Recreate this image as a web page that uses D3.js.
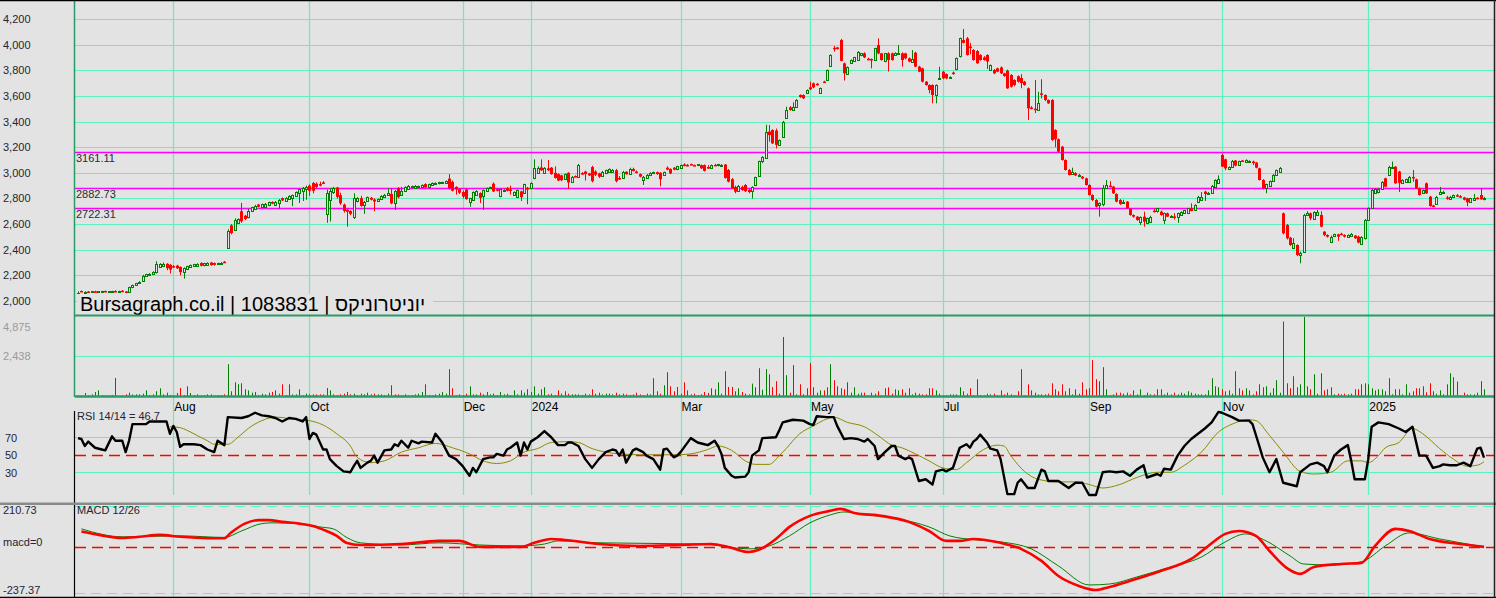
<!DOCTYPE html>
<html><head><meta charset="utf-8">
<script src="https://cdn.jsdelivr.net/npm/d3@7"></script>
<style>
html,body{margin:0;padding:0;background:#e3e3e3;overflow:hidden}
svg{display:block;font-family:"Liberation Sans",Arial,sans-serif}
</style></head><body><svg id="c" width="1496" height="598"></svg>
<script>
// ---- DATA ----
const priceTicks = [2000,2200,2400,2600,2800,3000,3200,3400,3600,3800,4000,4200];
const volTicks = [4875,2438];
const rsiTicks = [70,50,30];
const levels = [3161.11,2882.73,2722.31];
const monthLabels = ['Aug','Oct','Dec','2024','Mar','May','Jul','Sep','Nov','2025'];
const monthIdx = [28,68,113,133,177,215,254,297,336,379];
const title = 'Bursagraph.co.il | 1083831 | יוניטרוניקס';
// daily candles [open, high, low, close]
const ohlc = [
[2040,2075,2010,2065],[2078,2082,2070,2072],[2072,2076,2068,2074],[2074,2078,2070,2072],[2072,2076,2068,2075],
[2075,2080,2070,2073],[2073,2077,2068,2075],[2075,2080,2072,2078],[2078,2082,2072,2074],[2074,2078,2070,2076],
[2076,2080,2072,2078],[2078,2084,2070,2072],[2072,2080,2068,2078],[2080,2085,2070,2072],[2074,2078,2062,2066],
[2068,2112,2065,2108],[2106,2128,2100,2125],[2125,2142,2120,2140],[2140,2155,2135,2150],[2155,2205,2150,2195],
[2195,2212,2190,2208],[2208,2218,2200,2214],[2214,2232,2210,2226],[2226,2310,2215,2286],[2268,2295,2260,2290],
[2278,2300,2270,2292],[2290,2295,2240,2256],[2282,2288,2215,2245],[2272,2280,2260,2264],[2276,2282,2250,2255],
[2265,2270,2200,2225],[2225,2262,2175,2255],[2250,2275,2245,2270],[2265,2285,2260,2280],[2270,2290,2265,2285],
[2278,2295,2275,2290],[2296,2302,2270,2275],[2275,2298,2270,2294],[2282,2302,2278,2298],[2300,2305,2275,2280],
[2296,2300,2276,2282],[2284,2298,2280,2294],[2290,2304,2286,2300],[2306,2312,2296,2300],[2415,2560,2410,2550],
[2590,2600,2520,2530],[2555,2645,2550,2635],[2612,2645,2605,2640],[2700,2765,2610,2622],[2665,2672,2630,2640],
[2650,2720,2645,2700],[2700,2735,2695,2730],[2720,2750,2715,2745],[2752,2758,2730,2735],[2735,2760,2730,2755],
[2740,2765,2735,2760],[2745,2775,2740,2770],[2772,2778,2755,2760],[2755,2780,2750,2775],[2765,2795,2720,2790],
[2802,2808,2780,2785],[2780,2810,2775,2805],[2795,2825,2790,2820],[2805,2830,2740,2825],[2820,2855,2815,2850],
[2840,2875,2765,2870],[2855,2890,2780,2880],[2878,2900,2790,2890],[2900,2910,2820,2860],[2920,2930,2840,2860],
[2915,2925,2880,2890],[2912,2930,2895,2905],[2925,2935,2915,2918],[2680,2870,2610,2840],[2790,2880,2620,2860],
[2845,2890,2835,2880],[2885,2890,2800,2812],[2825,2845,2750,2762],[2752,2760,2690,2702],[2712,2720,2580,2696],
[2702,2708,2670,2680],[2650,2840,2640,2800],[2780,2810,2770,2800],[2802,2820,2735,2742],[2750,2780,2680,2770],
[2780,2815,2775,2810],[2805,2812,2785,2790],[2792,2800,2700,2776],[2780,2800,2775,2795],[2800,2825,2795,2820],
[2815,2835,2810,2830],[2825,2880,2820,2840],[2835,2880,2755,2762],[2762,2865,2710,2858],[2882,2888,2800,2810],
[2830,2890,2825,2860],[2855,2895,2850,2890],[2880,2905,2875,2900],[2885,2900,2880,2895],[2886,2905,2880,2900],
[2895,2900,2885,2896],[2890,2910,2885,2905],[2912,2918,2880,2886],[2888,2915,2884,2910],[2905,2925,2900,2920],
[2916,2926,2912,2922],[2915,2930,2910,2925],[2924,2930,2918,2926],[2920,2940,2915,2935],[2955,2990,2870,2880],
[2930,2940,2855,2860],[2890,2895,2830,2870],[2875,2880,2835,2845],[2850,2862,2800,2815],[2870,2876,2790,2795],
[2770,2805,2735,2800],[2790,2855,2785,2850],[2830,2865,2825,2860],[2842,2848,2765,2805],[2820,2870,2710,2865],
[2860,2885,2855,2880],[2886,2892,2882,2888],[2915,2925,2850,2855],[2872,2878,2855,2860],[2815,2875,2810,2870],
[2864,2872,2860,2868],[2882,2888,2855,2860],[2870,2900,2830,2860],[2830,2855,2825,2850],[2810,2870,2805,2865],
[2855,2860,2780,2810],[2840,2915,2835,2910],[2882,2890,2755,2870],[2880,2925,2875,2920],[2960,3105,2950,3040],
[3000,3050,2995,3040],[3042,3105,3015,3020],[3000,3045,2995,3040],[3035,3100,3015,3020],[3040,3045,2985,2990],
[3000,3050,2955,2960],[2990,2995,2935,2940],[2980,2985,2935,2942],[2950,2995,2945,2990],[3000,3005,2875,2925],
[2930,2975,2925,2970],[2975,2980,2965,2968],[2965,3070,2960,3060],[2998,3005,2985,2990],[3010,3015,2940,2990],
[2995,3000,2975,2980],[3045,3055,2925,2935],[3010,3020,2975,2985],[2995,3000,2960,2970],[2980,3015,2975,3010],
[2995,3025,2990,3020],[3005,3035,3000,3030],[3010,3030,3005,3025],[3020,3030,2925,2935],[2960,2975,2945,2955],
[2960,3015,2955,3010],[3008,3012,2985,2990],[2990,3040,2985,3030],[3030,3040,3010,3015],[3010,3018,2995,3000],
[2990,2995,2965,2970],[2945,2975,2905,2970],[2965,2990,2960,2985],[2985,3005,2980,3000],[2995,3010,2990,3005],
[3005,3010,2985,2990],[3000,3005,2895,2950],[2980,3010,2975,3005],[3040,3050,3020,3025],[3030,3035,2990,2995],
[3040,3045,3020,3025],[3025,3055,3020,3050],[3040,3065,3035,3060],[3065,3075,3050,3055],[3062,3068,3050,3055],
[3068,3072,3060,3062],[3060,3065,3055,3058],[3055,3068,3052,3065],[3060,3065,3030,3035],[3060,3065,3010,3015],
[3045,3060,3030,3040],[3035,3065,3030,3060],[3062,3070,3052,3058],[3055,3070,3050,3065],[3060,3068,3055,3064],
[3065,3068,2955,2960],[3022,3030,2925,2931],[2950,2960,2875,2880],[2890,2900,2840,2853],[2860,2905,2855,2900],
[2890,2900,2860,2865],[2905,2912,2850,2857],[2867,2875,2840,2850],[2857,2895,2800,2890],[2900,2970,2895,2965],
[2975,3095,2970,3090],[3090,3130,3075,3120],[3120,3375,3110,3320],[3322,3373,3243,3295],[3334,3340,3225,3230],
[3330,3345,3190,3218],[3217,3260,3210,3256],[3282,3405,3275,3399],[3425,3516,3420,3490],[3511,3520,3485,3490],
[3490,3550,3485,3515],[3516,3575,3510,3568],[3607,3612,3585,3591],[3607,3612,3575,3581],[3620,3650,3615,3646],
[3667,3712,3645,3651],[3698,3705,3660,3667],[3695,3700,3680,3688],[3620,3665,3615,3660],[3712,3718,3700,3705],
[3724,3806,3720,3802],[3833,3925,3830,3919],[3975,3990,3945,3968],[3978,3982,3962,3966],[4036,4045,3870,3873],
[3854,3860,3720,3776],[3776,3830,3770,3828],[3854,3885,3850,3880],[3868,3905,3865,3900],[3880,3950,3875,3945],
[3915,3935,3910,3932],[3932,3940,3895,3900],[3890,3898,3878,3882],[3888,3892,3815,3880],[3880,3975,3875,3971],
[3997,4049,3925,3932],[3932,3935,3875,3880],[3868,3935,3862,3932],[3932,3940,3790,3880],[3932,3938,3875,3880],
[3920,3940,3915,3932],[3928,3997,3925,3932],[3932,3940,3828,3880],[3932,3936,3885,3893],[3893,3900,3862,3868],
[3868,3958,3865,3888],[3937,3945,3825,3828],[3828,3835,3785,3789],[3815,3820,3705,3711],[3711,3715,3680,3685],
[3685,3690,3620,3646],[3685,3690,3542,3607],[3607,3690,3542,3685],[3735,3828,3725,3740],[3789,3795,3730,3737],
[3770,3775,3730,3737],[3740,3752,3735,3745],[3782,3790,3765,3772],[3807,3900,3800,3893],[3906,4055,3900,4049],
[4036,4122,4010,4014],[4049,4060,3915,3919],[3985,4014,3925,3975],[3958,3965,3875,3880],[3950,3958,3850,3855],
[3919,3925,3875,3880],[3900,3910,3875,3880],[3919,3925,3810,3868],[3802,3845,3795,3841],[3802,3810,3770,3776],
[3815,3820,3785,3789],[3822,3830,3770,3776],[3776,3780,3750,3755],[3797,3805,3655,3659],[3763,3770,3665,3672],
[3724,3730,3675,3685],[3754,3760,3705,3711],[3740,3770,3660,3700],[3711,3718,3680,3685],[3659,3665,3412,3503],
[3510,3520,3495,3503],[3500,3724,3466,3490],[3490,3633,3485,3544],[3620,3730,3580,3610],[3607,3612,3560,3568],
[3568,3572,3538,3542],[3568,3575,3250,3256],[3334,3340,3200,3262],[3262,3268,3160,3165],[3204,3210,3095,3100],
[3100,3105,3018,3022],[3022,3030,2980,2983],[2995,3040,2990,3008],[2998,3005,2975,2980],[2975,2992,2970,2985],
[2970,2975,2950,2956],[2957,2962,2900,2905],[2905,2910,2822,2827],[2827,2832,2780,2788],[2788,2795,2730,2736],
[2750,2770,2658,2762],[2757,2905,2740,2879],[2879,2944,2875,2905],[2900,2935,2888,2892],[2892,2898,2835,2840],
[2835,2840,2770,2775],[2788,2795,2750,2757],[2765,2790,2760,2770],[2775,2780,2718,2723],[2718,2722,2665,2671],
[2671,2675,2650,2658],[2658,2662,2625,2632],[2619,2660,2593,2658],[2658,2697,2580,2619],[2606,2650,2600,2645],
[2619,2665,2610,2658],[2705,2720,2690,2695],[2697,2725,2690,2723],[2697,2705,2665,2671],[2632,2690,2600,2684],
[2684,2690,2655,2658],[2662,2670,2655,2665],[2660,2684,2635,2655],[2650,2690,2610,2684],[2671,2700,2668,2697],
[2684,2712,2680,2710],[2684,2725,2680,2723],[2723,2762,2700,2702],[2710,2755,2705,2749],[2775,2820,2770,2814],
[2790,2850,2785,2814],[2853,2860,2780,2835],[2836,2850,2830,2842],[2842,2905,2835,2900],[2892,2950,2885,2945],
[2920,2980,2915,2950],[3139,3150,3045,3048],[3105,3110,3020,3035],[3035,3050,3030,3048],[3050,3100,3045,3096],
[3096,3100,3050,3057],[3061,3095,3055,3092],[3096,3100,3085,3090],[3082,3105,3078,3100],[3090,3098,3085,3092],
[3088,3095,3060,3082],[3080,3085,3035,3040],[3035,3040,2940,2944],[2944,2950,2870,2879],[2879,2915,2840,2910],
[2895,2940,2890,2935],[2935,2990,2930,2985],[2985,3025,2980,3022],[3008,3045,3005,3040],[2684,2690,2520,2528],
[2593,2600,2480,2489],[2494,2500,2430,2437],[2411,2490,2405,2450],[2437,2442,2350,2359],[2365,2385,2294,2378],
[2385,2680,2380,2671],[2671,2700,2665,2690],[2684,2690,2630,2645],[2645,2700,2640,2697],[2671,2710,2665,2697],
[2671,2700,2575,2580],[2541,2545,2505,2515],[2515,2520,2495,2502],[2463,2510,2458,2502],[2502,2525,2498,2520],
[2520,2525,2470,2502],[2525,2532,2515,2520],[2515,2520,2495,2502],[2502,2520,2498,2515],[2507,2530,2502,2525],
[2510,2515,2485,2489],[2502,2510,2450,2456],[2450,2505,2445,2502],[2489,2640,2480,2632],[2632,2730,2625,2723],
[2723,2875,2718,2866],[2840,2880,2835,2870],[2845,2880,2840,2870],[2879,2935,2875,2930],[2957,2962,2888,2892],
[2983,3055,2978,3048],[3040,3088,3035,3048],[3048,3052,2915,2918],[3010,3015,2850,2922],[2918,2950,2912,2944],
[2930,2955,2925,2950],[2930,2975,2925,2970],[2968,3022,2930,2960],[2949,2955,2875,2879],[2879,2885,2822,2827],
[2840,2870,2835,2866],[2918,2925,2835,2840],[2814,2820,2735,2741],[2745,2750,2732,2741],[2762,2820,2758,2814],
[2840,2890,2835,2853],[2845,2860,2840,2850],[2808,2820,2790,2800],[2795,2820,2790,2814],[2814,2830,2810,2827],
[2825,2835,2815,2820],[2818,2825,2805,2810],[2808,2812,2785,2790],[2801,2805,2740,2770],[2770,2805,2765,2801],
[2788,2835,2785,2801],[2805,2810,2795,2800],[2827,2880,2790,2793],[2798,2812,2785,2806]
];
const volume = [
100,80,240,100,160,300,400,120,100,80,120,1150,60,80,160,260,160,160,160,200,
400,120,160,345,525,160,260,120,100,240,545,120,645,240,100,160,100,100,160,160,
80,120,120,160,1975,345,885,765,825,465,400,260,300,100,200,160,260,300,400,200,
765,120,765,160,160,465,100,200,160,160,160,160,160,545,400,160,100,160,200,300,
160,200,100,200,160,260,160,200,160,160,120,200,705,160,160,100,160,100,120,160,
200,300,765,120,100,160,200,300,200,1675,525,100,160,120,200,645,160,160,260,160,
300,160,200,120,300,160,200,120,400,160,400,260,465,300,645,200,465,585,160,200,
120,400,200,345,200,160,160,160,120,200,160,465,200,260,160,200,200,160,260,160,
200,160,120,160,260,160,120,200,160,1130,345,200,705,1490,645,345,605,200,885,400,
160,200,120,160,300,240,525,465,885,200,1555,605,605,345,525,300,200,160,805,585,
1735,440,1675,1370,600,950,200,3610,1310,260,1915,160,765,160,525,2040,585,260,400,400,
585,1975,1010,645,525,465,885,260,585,200,260,260,100,260,200,345,100,525,585,200,
465,400,465,260,525,160,260,200,160,160,525,525,400,200,100,100,160,160,160,585,
345,200,525,100,1070,120,100,200,160,200,100,400,160,260,160,100,345,1675,100,765,
400,260,160,160,160,200,825,465,345,765,345,525,160,465,200,885,465,525,2220,1070,
950,1795,465,100,160,260,260,200,260,160,400,160,465,100,260,160,160,465,465,160,
260,160,260,160,260,200,345,260,200,160,160,160,400,1130,645,585,465,345,400,200,
1555,525,400,525,400,160,345,765,585,645,260,525,1010,260,4540,825,525,1250,585,765,
4820,645,465,1370,200,1430,400,465,585,160,200,160,200,160,200,465,465,765,825,765,
525,400,465,465,345,1130,160,465,465,160,765,260,345,525,525,645,280,825,345,200,
400,160,765,1430,1190,930,100,260,160,160,160,260,950,465
];
// RSI 14 [day index, value]
const rsiLine = [[0,69],[1,68],[2,60],[3,65],[5,58],[7,56],[8,55],[10,71],[11,66],[13,66],[14,53],[15,66],[16,85],[20,85],[21,88],[26,88],[27,74],[28,83],[29,76],[30,59],[31,62],[34,62],[36,61],[38,56],[40,53],[41,66],[43,61],[44,93],[48,92],[50,94],[52,98],[54,95],[56,94],[58,92],[60,88],[62,92],[64,91],[66,88],[67,93],[68,68],[69,75],[70,73],[72,56],[73,56],[74,45],[76,37],[78,31],[80,30],[81,37],[82,43],[83,35],[85,41],[86,43],[87,49],[88,41],[90,55],[92,56],[93,62],[94,60],[95,66],[97,58],[98,66],[100,63],[101,65],[104,64],[105,74],[107,64],[109,49],[111,45],[112,41],[113,37],[115,26],[116,35],[117,30],[119,45],[121,47],[122,47],[123,51],[125,49],[126,56],[127,58],[129,64],[130,49],[131,64],[132,56],[133,65],[135,70],[137,77],[139,70],[141,61],[143,61],[144,64],[145,64],[147,60],[149,45],[151,35],[153,45],[155,53],[157,56],[158,55],[159,49],[160,56],[161,41],[163,55],[164,57],[166,53],[167,49],[169,45],[171,33],[172,56],[173,57],[175,47],[176,49],[177,53],[180,69],[182,64],[184,62],[185,61],[187,66],[188,60],[189,51],[190,35],[192,26],[193,24],[196,25],[197,30],[198,49],[200,55],[201,69],[205,70],[206,78],[207,87],[208,88],[210,90],[213,89],[215,85],[216,84],[217,94],[220,93],[222,93],[223,83],[225,68],[227,69],[229,68],[231,65],[232,68],[234,60],[235,45],[237,53],[239,60],[240,60],[241,49],[243,45],[244,47],[245,45],[247,20],[249,22],[251,16],[252,31],[254,33],[255,31],[257,35],[259,58],[261,62],[262,58],[263,65],[264,68],[265,73],[267,64],[268,57],[270,55],[271,45],[273,5],[275,5],[276,18],[277,22],[279,12],[281,12],[283,33],[284,31],[285,20],[288,20],[291,12],[293,18],[295,18],[297,4],[299,4],[301,30],[303,31],[305,30],[307,31],[309,26],[311,33],[313,38],[314,24],[317,28],[318,26],[319,34],[321,33],[323,49],[325,60],[327,68],[329,74],[331,80],[333,87],[335,99],[336,98],[339,93],[341,89],[344,89],[345,85],[347,60],[348,47],[350,30],[352,45],[354,18],[356,16],[358,14],[359,30],[362,39],[364,41],[366,37],[367,30],[369,49],[371,56],[373,61],[374,43],[375,22],[378,22],[379,45],[380,82],[382,87],[385,85],[388,80],[390,76],[392,82],[394,49],[396,49],[398,35],[400,37],[401,39],[403,38],[405,38],[407,41],[409,37],[411,57],[412,58],[413,46.7]];
const rsiSignal = [[27,82],[30,81],[32,78],[35,72],[38,66],[40,62],[44,62],[47,70],[50,80],[54,89],[58,93],[63,91],[68,89],[72,84],[76,74],[80,60],[82,47],[86,41],[90,43],[95,53],[100,58],[105,63],[110,58],[115,51],[119,43],[123,40],[127,43],[131,53],[135,57],[139,64],[144,65],[147,64],[151,57],[155,53],[159,51],[165,50],[171,50],[176,50],[180,51],[185,56],[188,60],[192,55],[196,43],[199,39],[203,39],[206,49],[208,57],[212,74],[216,83],[220,91],[222,93],[226,87],[231,82],[235,72],[239,61],[242,58],[246,51],[250,43],[254,35],[258,33],[261,41],[266,56],[270,61],[272,60],[274,49],[278,31],[282,22],[288,19],[293,19],[297,16],[301,12],[306,16],[311,24],[317,30],[321,30],[325,38],[330,53],[335,76],[339,85],[344,90],[346,89],[350,72],[354,53],[359,31],[363,28],[368,30],[373,43],[377,43],[379,41],[382,49],[384,58],[388,64],[392,80],[395,74],[400,57],[404,45],[408,37],[411,38],[413,42]];
// MACD 12/26 [day index, value]
const macdLine = [[1,79],[6,62],[13,46],[18,52],[24,62],[30,52],[38,45],[43,45],[45,74],[49,120],[53,138],[56,138],[60,129],[65,120],[69,108],[73,82],[76,57],[79,20],[83,10],[95,15],[106,31],[112,31],[118,0],[124,0],[130,0],[134,21],[139,41],[143,36],[153,15],[165,5],[177,10],[186,15],[191,0],[197,-26],[200,-15],[205,41],[209,103],[215,160],[221,186],[224,196],[228,175],[236,160],[244,129],[250,82],[255,31],[259,31],[263,41],[271,21],[277,-10],[283,-72],[288,-150],[294,-201],[299,-222],[303,-206],[309,-175],[318,-124],[327,-62],[332,5],[337,67],[341,82],[346,57],[350,-21],[355,-108],[359,-139],[363,-103],[371,-88],[377,-82],[381,5],[387,93],[391,82],[397,41],[406,15],[413,0]];
const macdSignal = [[1,93],[13,52],[30,57],[43,49],[48,82],[54,120],[57,124],[65,120],[71,103],[75,93],[79,48],[83,21],[95,10],[106,21],[118,10],[130,5],[137,15],[141,31],[153,21],[183,15],[197,-10],[203,5],[209,57],[215,124],[221,165],[225,180],[232,165],[241,144],[250,103],[256,57],[264,36],[271,26],[280,-10],[288,-98],[297,-196],[303,-191],[311,-155],[320,-108],[330,-52],[337,26],[343,67],[349,31],[356,-46],[360,-88],[368,-93],[377,-77],[384,5],[391,72],[400,41],[413,0]];

// ---- DRAW ----
const W=1496,H=598,L=75,R=1494;
const BG='#e3e3e3',GRID='#5ff2c0',AXG='#2a9a6a',UP='#008000',DN='#ff0000';
const svg=d3.select('#c');
svg.append('rect').attr('width',W).attr('height',H).attr('fill',BG);
const x=d3.scaleLinear().domain([0,ohlc.length-1]).range([78,1484]);
const yP=d3.scaleLinear().domain([2000,4200]).range([301,19]);
const yV=d3.scaleLinear().domain([0,4875]).range([397,316]);
const yR=d3.scaleLinear().domain([0,100]).range([498.5,411]);
const yM=d3.scaleLinear().domain([-237.37,210.73]).range([593,506]);
const pxl=v=>Math.round(v)+0.5;
const hline=(y,x1,x2,col,w,dash)=>svg.append('line').attr('x1',x1).attr('x2',x2).attr('y1',y).attr('y2',y).attr('stroke',col).attr('stroke-width',w||1).attr('stroke-dasharray',dash||null);
const vline=(xx,y1,y2,col,w)=>svg.append('line').attr('x1',xx).attr('x2',xx).attr('y1',y1).attr('y2',y2).attr('stroke',col).attr('stroke-width',w||1);

// grids
priceTicks.forEach(t=>hline(pxl(yP(t)),L,R,GRID,1.2));
volTicks.slice(1).forEach(t=>hline(pxl(yV(t)),L,R,GRID,1.2));
hline(pxl(yR(70)),L,R,GRID,1.2); hline(pxl(yR(30)),L,R,GRID,1.2);
hline(pxl(yM(210.73)),L,R,GRID,1,'10,6'); hline(pxl(yM(-237.37)),L,R,GRID,1,'10,6');
monthIdx.forEach(i=>{const xx=pxl(x(i)); vline(xx,1,495,GRID,1.2); vline(xx,505,597,GRID,1.2);});
hline(pxl(yR(50)),L,R,DN,1.3,'11,6');
hline(pxl(yM(0)),L,R,DN,1.3,'11,6');

// magenta levels
levels.forEach(v=>hline(pxl(yP(v)),L,R,'#ff00ff',1.4));

// candles
const gc=svg.append('g');
ohlc.forEach((d,i)=>{
  const [o,h,l,c]=d, up=c>=o, col=up?UP:DN, cx=pxl(x(i));
  gc.append('line').attr('x1',cx).attr('x2',cx).attr('y1',yP(h)).attr('y2',yP(l)).attr('stroke',col);
  const t=yP(Math.max(o,c)), b=yP(Math.min(o,c));
  if(up) gc.append('rect').attr('x',cx-1).attr('y',Math.round(t)+0.5).attr('width',2).attr('height',Math.max(Math.round(b-t),1)).attr('fill',BG).attr('stroke',col);
  else gc.append('rect').attr('x',cx-1.5).attr('y',t).attr('width',3).attr('height',Math.max(b-t,1.5)).attr('fill',col);
});

// level labels
levels.forEach(v=>{
  const y=yP(v);
  svg.append('rect').attr('x',76).attr('y',y+1.5).attr('width',35).attr('height',12).attr('fill',BG);
  svg.append('text').attr('x',76).attr('y',y+10).attr('font-size',11).attr('fill','#2a2a3a').text(v.toFixed(2));
});

// watermark
svg.append('rect').attr('x',77).attr('y',294).attr('width',356).attr('height',20).attr('fill',BG);
svg.append('text').attr('x',80).attr('y',311).attr('font-size',20).attr('fill','#000').text(title);

// volume bars
const gv=svg.append('g');
volume.forEach((v,i)=>{
  const cx=pxl(x(i)), up=ohlc[i][3]>=ohlc[i][0];
  gv.append('line').attr('x1',cx).attr('x2',cx).attr('y1',yV(0)).attr('y2',yV(v)).attr('stroke',up?UP:DN).attr('stroke-width',1);
});

// panel borders
hline(315.5,L,R,AXG,2);
hline(396.5,L,R,AXG,2.5);
vline(74.5,0,397,AXG,1.5);
vline(74.5,411,503,'#000',1.2);
vline(74.5,505,597,'#000',1.2);
svg.append('rect').attr('x',0).attr('y',502.5).attr('width',W).attr('height',2.5).attr('fill','#8a8a8a');

// RSI
const lineGen=(ys,curve)=>d3.line().x(d=>x(d[0])).y(d=>ys(d[1])).curve(curve||d3.curveLinear);
svg.append('path').datum(rsiSignal).attr('d',lineGen(yR,d3.curveMonotoneX)).attr('fill','none').attr('stroke','#8b8b00').attr('stroke-width',1);
svg.append('path').datum(rsiLine).attr('d',lineGen(yR)).attr('fill','none').attr('stroke','#000').attr('stroke-width',2.4).attr('stroke-linejoin','round');
// MACD
svg.append('path').datum(macdSignal).attr('d',lineGen(yM,d3.curveMonotoneX)).attr('fill','none').attr('stroke','#008000').attr('stroke-width',1);
svg.append('path').datum(macdLine).attr('d',lineGen(yM,d3.curveMonotoneX)).attr('fill','none').attr('stroke','#ff0000').attr('stroke-width',2.6);

// axis labels
const fmt=d3.format(',');
const ax=svg.append('g').attr('font-size',11);
priceTicks.forEach(t=>ax.append('text').attr('x',3).attr('y',yP(t)+4).attr('fill','#252535').text(fmt(t)));
volTicks.forEach(t=>ax.append('text').attr('x',3).attr('y',Math.max(yV(t),327)+4).attr('fill','#9a9a9a').text(fmt(t)));
rsiTicks.forEach(t=>ax.append('text').attr('x',5).attr('y',yR(t)+4.5).attr('fill','#252535').text(t));
ax.append('text').attr('x',3).attr('y',514).attr('fill','#252535').text('210.73');
ax.append('text').attr('x',3).attr('y',546).attr('fill','#252535').text('macd=0');
ax.append('text').attr('x',3).attr('y',594).attr('fill','#252535').text('-237.37');
ax.append('text').attr('x',77).attr('y',419.5).attr('fill','#252535').text('RSI 14/14 = 46.7');
ax.append('text').attr('x',77).attr('y',513.5).attr('fill','#252535').text('MACD 12/26');
monthLabels.forEach((m,k)=>svg.append('text').attr('x',x(monthIdx[k])+1).attr('y',411).attr('font-size',12).attr('fill','#000').text(m));

// outer frame
hline(0.5,0,W,'#000',1.5);
hline(597.5,0,W,'#000',1.5);
vline(1494.5,0,H,'#222',1.5);
</script></body></html>
